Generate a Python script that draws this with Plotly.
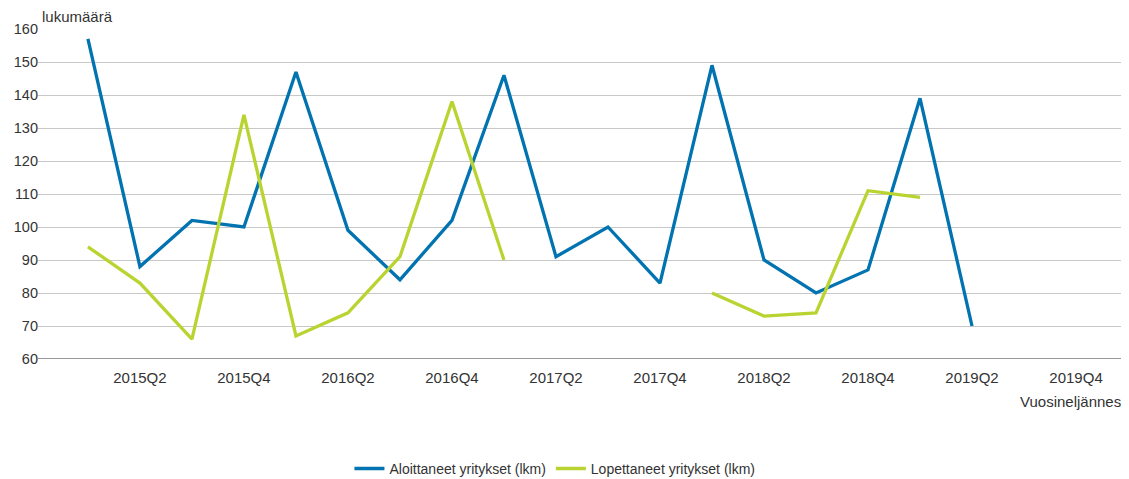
import plotly.graph_objects as go

quarters = [f"{y}Q{q}" for y in range(2015, 2020) for q in range(1, 5)]
aloittaneet = [157, 88, 102, 100, 147, 99, 84, 102, 146, 91, 100, 83, 149, 90, 80, 87, 139, 70, None, None]
lopettaneet = [94, 83, 66, 134, 67, 74, 91, 138, 90, None, None, None, 80, 73, 74, 111, 109, None, None, None]
tick_labels = ["2015Q2", "2015Q4", "2016Q2", "2016Q4", "2017Q2", "2017Q4", "2018Q2", "2018Q4", "2019Q2", "2019Q4"]
y_ticks = [60, 70, 80, 90, 100, 110, 120, 130, 140, 150, 160]

FONT = "Liberation Sans, Arial, sans-serif"
TXT = "#333333"

fig = go.Figure()
fig.add_trace(go.Scatter(x=quarters, y=aloittaneet, mode="lines", name="Aloittaneet yritykset (lkm)",
                         line=dict(color="#0073B0", width=3.3), connectgaps=False))
fig.add_trace(go.Scatter(x=quarters, y=lopettaneet, mode="lines", name="Lopettaneet yritykset (lkm)",
                         line=dict(color="#B9D431", width=3.3), connectgaps=False))

# page body has an 8px default margin, so the figure is sized/placed to compensate
fig.update_layout(
    width=1121, height=471,
    margin=dict(l=30, r=2, t=21, b=120, autoexpand=False),
    plot_bgcolor="white", paper_bgcolor="white",
    font=dict(family=FONT, color=TXT, size=14),
    showlegend=True,
    legend=dict(orientation="h", x=0.4747, xanchor="center", y=-0.333, yanchor="middle",
                font=dict(size=14, color=TXT), itemwidth=30, tracegroupgap=0),
    xaxis=dict(type="category", categoryorder="array", categoryarray=quarters, automargin=False,
               range=[-0.96, 19.98], tickmode="array", tickvals=tick_labels, ticktext=tick_labels,
               showgrid=False, showline=False, zeroline=False, ticks="", ticklabelstandoff=8,
               tickfont=dict(size=15, color=TXT)),
    yaxis=dict(range=[60, 160], tickvals=y_ticks, showgrid=True, gridcolor="#C8C8C8", gridwidth=1,
               automargin=False, zeroline=False, showline=False, ticks="", ticklabelstandoff=-1,
               tickfont=dict(size=14.5, color=TXT)),
    annotations=[
        dict(text="lukumäärä", xref="paper", yref="paper", x=0.002, y=1.0, xanchor="left", yanchor="middle",
             yshift=13, showarrow=False, font=dict(size=15, color=TXT)),
        dict(text="Vuosineljännes", xref="paper", yref="paper", x=0.9963, y=0, xanchor="right", yanchor="middle",
             yshift=-42, showarrow=False, font=dict(size=15, color=TXT)),
    ],
    shapes=[dict(type="line", xref="paper", yref="y", x0=0, x1=1, y0=60, y1=60,
                 line=dict(color="#333333", width=1.2))],
)

fig.write_html("out.html")
